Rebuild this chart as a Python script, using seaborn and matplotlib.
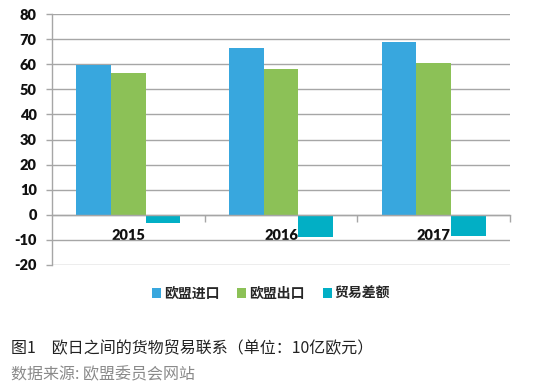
import matplotlib
matplotlib.use("Agg")
import matplotlib.pyplot as plt
import seaborn as sns
import pandas as pd
from matplotlib.patches import Patch
from matplotlib.ticker import FixedLocator

years = ["2015", "2016", "2017"]
series = ["欧盟进口", "欧盟出口", "贸易差额"]
imports = [59.6, 66.6, 68.8]
exports = [56.4, 57.9, 60.4]
balance = [-3.4, -8.8, -8.6]
yticks = [-20, -10, 0, 10, 20, 30, 40, 50, 60, 70, 80]
colors = ["#38a7de", "#8cc157", "#02afc5"]
caption = "图1\u3000欧日之间的货物贸易联系（单位：10亿欧元）"
source = "数据来源: 欧盟委员会网站"

rows = []
for name, vals in zip(series, [imports, exports, balance]):
    for y, v in zip(years, vals):
        rows.append({"year": y, "series": name, "value": v})
df = pd.DataFrame(rows)

sns.set_style("white")
plt.rcParams["font.family"] = ["Lato", "Noto Sans CJK SC", "DejaVu Sans"]

fig = plt.figure(figsize=(5.41, 3.92), dpi=100)
ax = fig.add_axes([52 / 541, 1 - 265 / 392, (510 - 52) / 541, (265 - 14) / 392])

sns.barplot(data=df, x="year", y="value", hue="series", order=years,
            hue_order=series, palette=colors, width=0.68, saturation=1,
            errorbar=None, legend=False, ax=ax, zorder=3, linewidth=0,
            edgecolor="none")

ax.set_ylim(-20, 80)
ax.set_xlim(-0.5, 2.5)
ax.set_yticks(yticks)
ax.set_yticklabels([str(t) for t in yticks], fontsize=10.5, fontweight="heavy",
                   color="#111111")
ax.yaxis.grid(True, color="#a6a6a6", linewidth=1.0, zorder=0)
ax.set_axisbelow(True)
ax.tick_params(axis="y", length=4, color="#a6a6a6", width=1.0, pad=7, left=True)

for s in ["top", "right"]:
    ax.spines[s].set_visible(False)
ax.spines["left"].set_color("#a6a6a6")
ax.spines["left"].set_linewidth(1.0)
ax.spines["bottom"].set_position(("data", 0))
ax.spines["bottom"].set_color("#a6a6a6")
ax.spines["bottom"].set_linewidth(1.0)
ax.spines["bottom"].set_zorder(4)

ax.set_xticks(range(len(years)))
ax.set_xticklabels(years, fontsize=10.5, fontweight="heavy", color="#111111")
ax.tick_params(axis="x", which="major", length=0, pad=10, bottom=True)
ax.xaxis.set_minor_locator(FixedLocator([0.5, 1.5, 2.5]))
ax.tick_params(axis="x", which="minor", length=5, color="#a6a6a6", width=1.0,
               bottom=True)
ax.set_xlabel("")
ax.set_ylabel("")

handles = [Patch(facecolor=c, edgecolor="none", label=s) for c, s in zip(colors, series)]
leg = fig.legend(handles=handles, loc="center", bbox_to_anchor=(271 / 541, 1 - 294 / 392),
                 ncol=3, frameon=False, handlelength=0.65, handleheight=0.65,
                 handletextpad=0.2, columnspacing=1.3,
                 prop={"family": ["Noto Sans CJK SC"], "weight": "bold", "size": 10})

fig.text(11 / 541, 1 - 349 / 392, caption, fontsize=11.5, color="#222222",
         family=["Noto Sans CJK SC"], va="center", ha="left")
fig.text(11 / 541, 1 - 375 / 392, source, fontsize=11.5, color="#8a8a8a",
         family=["Noto Sans CJK SC"], va="center", ha="left")

fig.savefig("out.png", dpi=100)
